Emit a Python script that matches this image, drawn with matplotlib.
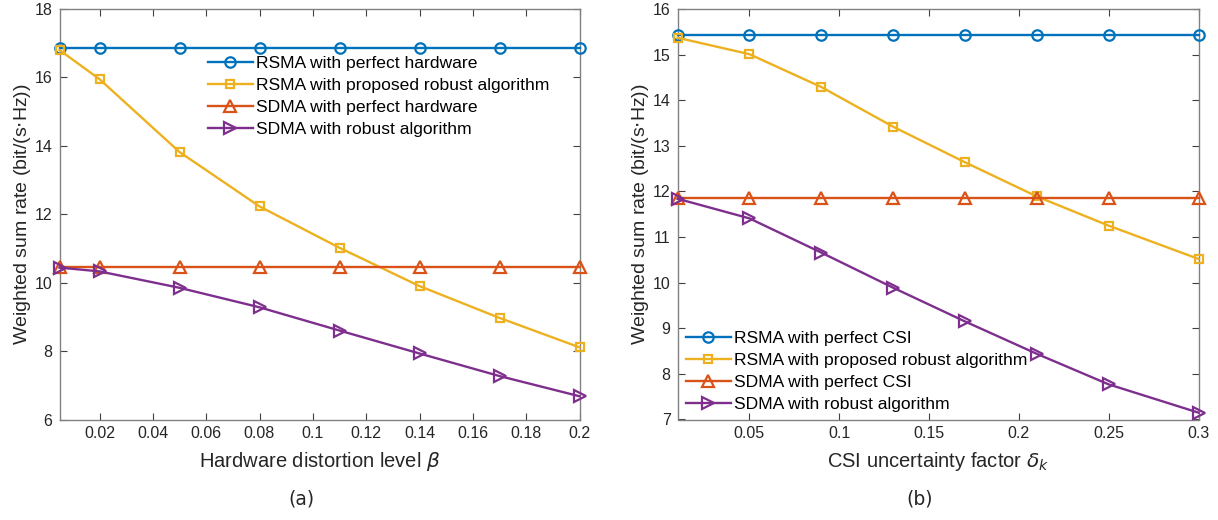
import numpy as np
import matplotlib
matplotlib.use("Agg")
import matplotlib.pyplot as plt

plt.rcParams['font.family'] = ['Liberation Sans', 'DejaVu Sans']
plt.rcParams['mathtext.fontset'] = 'dejavusans'

# (a) hardware distortion sweep
beta = [0.005, 0.02, 0.05, 0.08, 0.11, 0.14, 0.17, 0.2]
rsma_perfect_hw = [16.85] * 8
rsma_robust_a = [16.80, 15.95, 13.82, 12.23, 11.02, 9.90, 8.97, 8.11]
sdma_perfect_hw = [10.46] * 8
sdma_robust_a = [10.44, 10.33, 9.85, 9.28, 8.60, 7.93, 7.27, 6.68]

# (b) CSI uncertainty sweep
delta = [0.01, 0.05, 0.09, 0.13, 0.17, 0.21, 0.25, 0.3]
rsma_perfect_csi = [15.42] * 8
rsma_robust_b = [15.37, 15.01, 14.29, 13.42, 12.64, 11.89, 11.25, 10.52]
sdma_perfect_csi = [11.86] * 8
sdma_robust_b = [11.84, 11.41, 10.66, 9.89, 9.15, 8.44, 7.77, 7.15]

c_blue = '#0072BD'
c_yellow = '#EDB120'
c_red = '#D95319'
c_purple = '#7E2F8E'

W, H = 1218, 520
fig = plt.figure(figsize=(W / 100, H / 100), dpi=100)
ax1 = fig.add_axes([59.5 / W, 1 - 419.5 / H, 520 / W, 410.5 / H])
ax2 = fig.add_axes([677.5 / W, 1 - 419.5 / H, 521 / W, 410.5 / H])


def draw(ax, x, series, labels):
    styles = [('o', c_blue, 7.5), ('s', c_yellow, 6), ('^', c_red, 8), ('>', c_purple, 8)]
    for y, lab, (m, c, ms) in zip(series, labels, styles):
        ax.plot(x, y, color=c, lw=1.7, marker=m, ms=ms, mfc='none', mew=1.6,
                label=lab, clip_on=False, zorder=3)
    for s in ax.spines.values():
        s.set_color('#808080')
        s.set_linewidth(1.0)
    ax.tick_params(direction='in', top=True, right=True, length=5, width=0.8,
                   color='#404040', labelsize=11.5, labelcolor='#262626', pad=5)


draw(ax1, beta, [rsma_perfect_hw, rsma_robust_a, sdma_perfect_hw, sdma_robust_a],
     ['RSMA with perfect hardware', 'RSMA with proposed robust algorithm',
      'SDMA with perfect hardware', 'SDMA with robust algorithm'])
ax1.set_xlim(0.005, 0.2)
ax1.set_ylim(6, 18)
ax1.set_xticks([0.02, 0.04, 0.06, 0.08, 0.1, 0.12, 0.14, 0.16, 0.18, 0.2])
ax1.set_xticklabels(['0.02', '0.04', '0.06', '0.08', '0.1', '0.12', '0.14', '0.16', '0.18', '0.2'])
ax1.set_yticks([6, 8, 10, 12, 14, 16, 18])
ax1.set_xlabel(r'Hardware distortion level $\beta$', fontsize=14.5, labelpad=6,
               color='#262626')
ax1.set_ylabel('Weighted sum rate (bit/(s$\\cdot$Hz))', fontsize=14, labelpad=1,
               color='#262626')
ax1.legend(loc='upper left', bbox_to_anchor=(148 / 520, 0.885), frameon=False,
           fontsize=12.6, handlelength=2.6, handletextpad=0.2, labelspacing=0.38,
           borderaxespad=0, borderpad=0)

draw(ax2, delta, [rsma_perfect_csi, rsma_robust_b, sdma_perfect_csi, sdma_robust_b],
     ['RSMA with perfect CSI', 'RSMA with proposed robust algorithm',
      'SDMA with perfect CSI', 'SDMA with robust algorithm'])
ax2.set_xlim(0.01, 0.3)
ax2.set_ylim(7, 16)
ax2.set_xticks([0.05, 0.1, 0.15, 0.2, 0.25, 0.3])
ax2.set_xticklabels(['0.05', '0.1', '0.15', '0.2', '0.25', '0.3'])
ax2.set_yticks(range(7, 17))
ax2.set_xlabel(r'CSI uncertainty factor $\delta_k$', fontsize=14.5, labelpad=6,
               color='#262626')
ax2.set_ylabel('Weighted sum rate (bit/(s$\\cdot$Hz))', fontsize=14, labelpad=1,
               color='#262626')
ax2.legend(loc='lower left', bbox_to_anchor=(8 / 521, 0.018), frameon=False,
           fontsize=12.6, handlelength=2.6, handletextpad=0.2, labelspacing=0.38,
           borderaxespad=0, borderpad=0)

fig.text(301 / W, 1 - 499 / H, '(a)', ha='center', va='center', fontsize=13.5,
         family='DejaVu Sans', color='#262626')
fig.text(920 / W, 1 - 499 / H, '(b)', ha='center', va='center', fontsize=13.5,
         family='DejaVu Sans', color='#262626')

fig.savefig('out.png', dpi=100)
